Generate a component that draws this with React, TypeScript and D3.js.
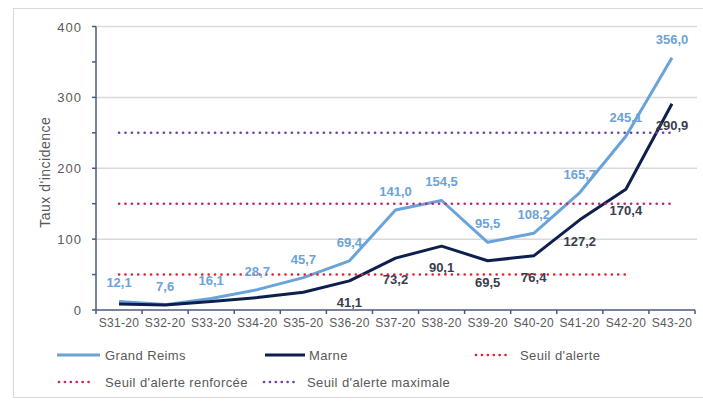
import React from "react";
import * as d3 from "d3";

const categories = ["S31-20","S32-20","S33-20","S34-20","S35-20","S36-20","S37-20","S38-20","S39-20","S40-20","S41-20","S42-20","S43-20"];
const grandReims = [12.1, 7.6, 16.1, 28.7, 45.7, 69.4, 141.0, 154.5, 95.5, 108.2, 165.7, 245.1, 356.0];
const marne = [8.5, 7.0, 12.0, 17.5, 25.0, 41.1, 73.2, 90.1, 69.5, 76.4, 127.2, 170.4, 290.9];
const marneLabelled = [false, false, false, false, false, true, true, true, true, true, true, true, true];
const yTicks = [0, 100, 200, 300, 400];
const yMinorTicks = [0, 50, 100, 150, 200, 250, 300, 350, 400];
const thresholds = [
  { name: "Seuil d'alerte", value: 50, color: "#e8202a", from: "S31-20", to: "S42-20" },
  { name: "Seuil d'alerte renforcée", value: 150, color: "#cc2366", from: "S31-20", to: "S43-20" },
  { name: "Seuil d'alerte maximale", value: 250, color: "#7040a8", from: "S31-20", to: "S43-20" },
];

const fmt = (v: number) => v.toFixed(1).replace(".", ",");

export default function App() {
  const W = 703, H = 403;
  const x0 = 96, x1 = 695, yTop = 26.5, yBot = 310;
  const x = d3.scalePoint<string>().domain(categories).range([x0, x1]).padding(0.5);
  const band = x.step();
  const y = d3.scaleLinear().domain([0, 400]).range([yBot, yTop]);
  const line = d3.line<number>().x((_, i) => x(categories[i])!).y((d) => y(d)).curve(d3.curveLinear);
  const font = "'Liberation Sans', Arial, sans-serif";
  const gray = "#595959";
  const blue = "#6aa3d9";
  const navy = "#0f1f4d";
  const dotStyle = { strokeDasharray: "0.1 6.3", strokeLinecap: "round" as const, strokeWidth: 2.6 };
  const tickXs = d3.range(categories.length + 1).map((i) => x0 + i * band);

  return (
    <svg width={W} height={H} style={{ position: "absolute", left: 0, top: 0, fontFamily: font }}>
      <rect x={0} y={0} width={W} height={H} fill="#fff" />
      <rect x={13.5} y={8.5} width={700} height={389} fill="#fff" stroke="#d9d9d9" strokeWidth={1} />
      {/* gridlines */}
      {yTicks.filter((t) => t > 0).map((t) => (
        <line key={t} x1={x0} x2={697} y1={y(t)} y2={y(t)} stroke="#d9d9d9" strokeWidth={1.5} />
      ))}
      {/* y axis */}
      <line x1={x0} x2={x0} y1={yTop} y2={yBot} stroke="#4a5a7a" strokeWidth={1.5} />
      {yMinorTicks.map((t) => (
        <line key={t} x1={x0 - 4} x2={x0} y1={y(t)} y2={y(t)} stroke="#4a5a7a" strokeWidth={1.5} />
      ))}
      {yTicks.map((t) => (
        <text key={t} x={82} y={y(t) + 5} textAnchor="end" fontSize={13} fill={gray} letterSpacing={1}>{t}</text>
      ))}
      <text transform={`translate(50,${(yTop + yBot) / 2 + 4}) rotate(-90)`} textAnchor="middle" fontSize={14} fill={gray} letterSpacing={0.5}>
        Taux d'incidence
      </text>
      {/* x axis */}
      <line x1={x0} x2={x1} y1={yBot} y2={yBot} stroke="#4a5a7a" strokeWidth={1.5} />
      {tickXs.map((tx, i) => (
        <line key={i} x1={tx} x2={tx} y1={yBot} y2={yBot + 4} stroke="#4a5a7a" strokeWidth={1.5} />
      ))}
      {categories.map((c) => (
        <text key={c} x={x(c)!} y={327} textAnchor="middle" fontSize={12} fill={gray} letterSpacing={0.3}>{c}</text>
      ))}
      {/* series */}
      <path d={line(grandReims)!} fill="none" stroke={blue} strokeWidth={3} strokeLinejoin="round" />
      <path d={line(marne)!} fill="none" stroke={navy} strokeWidth={3} strokeLinejoin="round" />
      {/* thresholds */}
      {thresholds.map((t) => (
        <line key={t.name} x1={x(t.from)!} x2={x(t.to)!} y1={y(t.value)} y2={y(t.value)} stroke={t.color} {...dotStyle} />
      ))}
      {/* labels */}
      {grandReims.map((v, i) => (
        <text key={"g" + i} x={x(categories[i])!} y={y(v) - 14} textAnchor="middle" fontSize={13} fontWeight="bold" fill={blue}>{fmt(v)}</text>
      ))}
      {marne.map((v, i) => marneLabelled[i] ? (
        <text key={"m" + i} x={x(categories[i])!} y={y(v) + 26} textAnchor="middle" fontSize={13} fontWeight="bold" fill="#3a3d4d">{fmt(v)}</text>
      ) : null)}
      {/* legend */}
      <g fontSize={13} fill={gray} letterSpacing={0.4}>
        <line x1={57} x2={100} y1={355} y2={355} stroke={blue} strokeWidth={3} />
        <text x={105} y={360}>Grand Reims</text>
        <line x1={265} x2={305} y1={355} y2={355} stroke={navy} strokeWidth={3} />
        <text x={309} y={360}>Marne</text>
        <line x1={476} x2={506} y1={355} y2={355} stroke={thresholds[0].color} strokeDasharray="0.1 5.8" strokeLinecap="round" strokeWidth={2.6} />
        <text x={520} y={360}>Seuil d'alerte</text>
        <line x1={59} x2={90} y1={382} y2={382} stroke={thresholds[1].color} strokeDasharray="0.1 5.8" strokeLinecap="round" strokeWidth={2.6} />
        <text x={105} y={387}>Seuil d'alerte renforcée</text>
        <line x1={264} x2={296} y1={382} y2={382} stroke={thresholds[2].color} strokeDasharray="0.1 5.8" strokeLinecap="round" strokeWidth={2.6} />
        <text x={307} y={387}>Seuil d'alerte maximale</text>
      </g>
    </svg>
  );
}
